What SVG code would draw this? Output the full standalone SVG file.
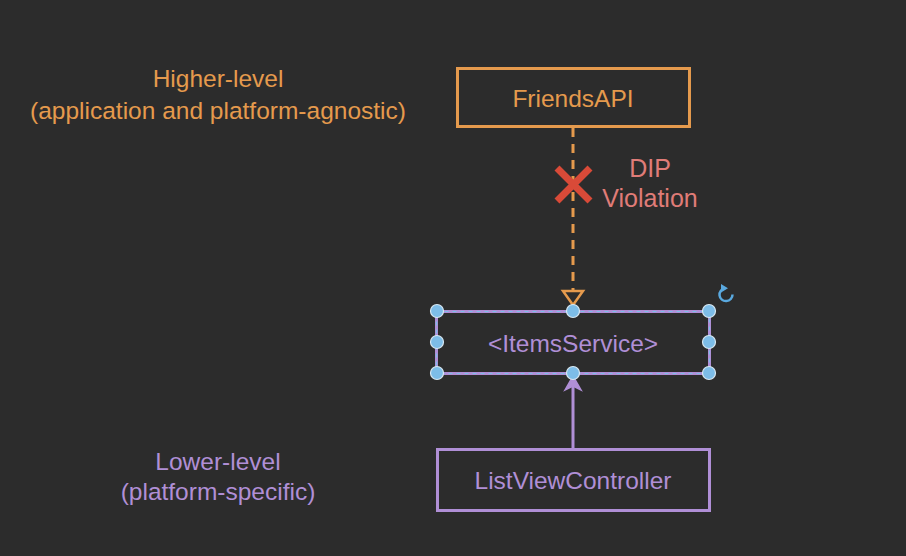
<svg xmlns="http://www.w3.org/2000/svg" width="906" height="556" viewBox="0 0 906 556">
<defs>
<style>
text{font-family:"Liberation Sans",Arial,sans-serif;font-size:24.5px;text-anchor:middle;dominant-baseline:central}
.o{fill:#e59a4d}
.p{fill:#b08fd6}
.r{fill:#e07c78;font-size:25px}
.h{fill:#7dbde8;stroke:#d8e8f2;stroke-width:1.2}
</style>
</defs>
<rect width="906" height="556" fill="#2c2c2c"/>
<g id="label-higher">
<text class="o" x="218" y="78">Higher-level</text>
<text class="o" x="218" y="110">(application and platform-agnostic)</text>
</g>
<g id="label-lower">
<text class="p" x="218" y="461">Lower-level</text>
<text class="p" x="218" y="491">(platform-specific)</text>
</g>
<g id="connectors">
<path d="M573,128 L573,304" stroke="#e59a4d" stroke-width="3" stroke-dasharray="9,7" fill="none"/>
<path d="M563,291 L583,291 L573,305 Z" fill="#2c2c2c" stroke="#e59a4d" stroke-width="2.5"/>
<path d="M573,449 L573,385" stroke="#b08fd6" stroke-width="3" fill="none"/>
<path d="M565,390 L573,376 L581,390 L573,386 Z" fill="#b08fd6" stroke="#b08fd6" stroke-width="1.5"/>
</g>
<g id="dip-violation">
<path d="M557,168 L590,201 M590,168 L557,201" stroke="#d94a38" stroke-width="7" stroke-linecap="butt"/>
<text class="r" x="650" y="168">DIP</text>
<text class="r" x="650" y="198">Violation</text>
</g>
<g id="FriendsAPI">
<rect x="457.5" y="68.5" width="232" height="58" fill="none" stroke="#e59a4d" stroke-width="3"/>
<text class="o" x="573" y="98">FriendsAPI</text>
</g>
<g id="ItemsService">
<rect x="436.5" y="311.5" width="273" height="62" fill="none" stroke="#b08fd6" stroke-width="3"/>
<rect x="436.5" y="311.5" width="273" height="62" fill="none" stroke="#7dbde8" stroke-width="1.2" stroke-dasharray="4,4"/>
<text class="p" x="573" y="343">&lt;ItemsService&gt;</text>
<circle class="h" cx="437" cy="311" r="6.5"/>
<circle class="h" cx="573" cy="311" r="6.5"/>
<circle class="h" cx="709" cy="311" r="6.5"/>
<circle class="h" cx="437" cy="342" r="6.5"/>
<circle class="h" cx="709" cy="342" r="6.5"/>
<circle class="h" cx="437" cy="373" r="6.5"/>
<circle class="h" cx="573" cy="373" r="6.5"/>
<circle class="h" cx="709" cy="373" r="6.5"/>
<path d="M732.5,294.5 A6.5,6.5 0 1 1 725,288.2" fill="none" stroke="#5aa9df" stroke-width="2.5"/>
<path d="M721,284 L728,288.3 L721,292.5 Z" fill="#5aa9df"/>
</g>
<g id="ListViewController">
<rect x="437.5" y="449.5" width="272" height="61" fill="none" stroke="#b08fd6" stroke-width="3"/>
<text class="p" x="573" y="480">ListViewController</text>
</g>
</svg>
